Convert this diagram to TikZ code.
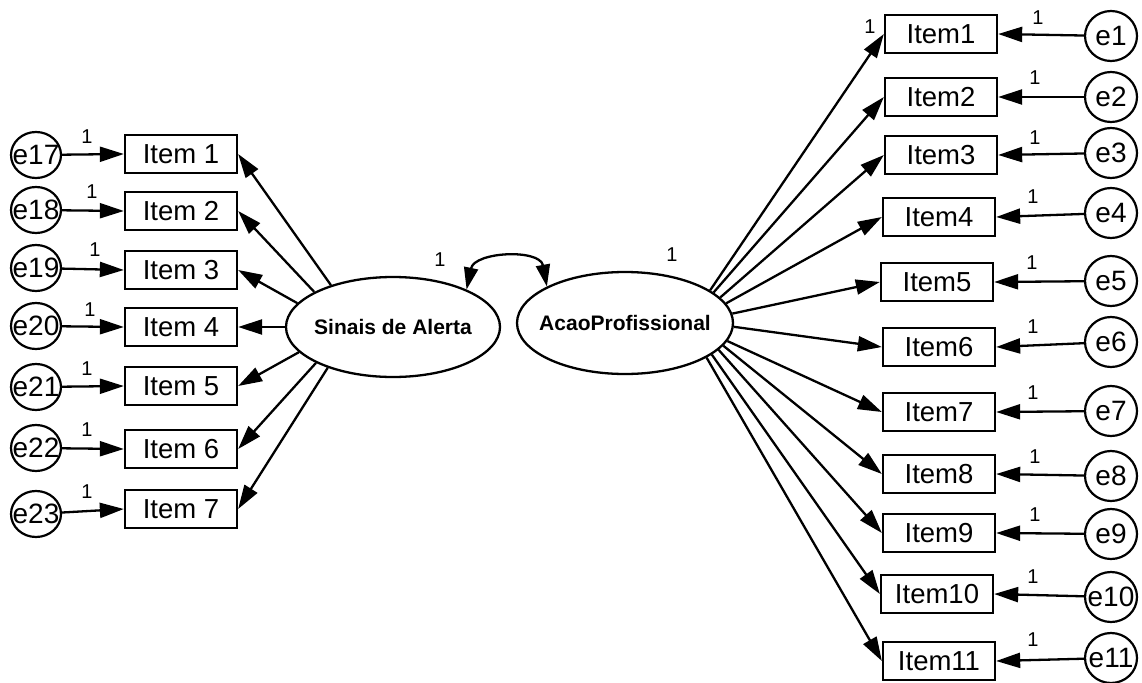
\documentclass[tikz,border=0pt]{standalone}
\usepackage{fontspec}
\setmainfont{Liberation Sans}
\usetikzlibrary{arrows.meta,shapes.geometric}
\newcommand{\zc}[1]{\makebox[0pt]{#1}}
\begin{document}
\begin{tikzpicture}[x=1pt,y=-1pt,
  obs/.style={draw, line width=2.3pt, rectangle, minimum width=112pt, minimum height=38pt, inner sep=0pt, font=\fontsize{27.5}{30}\selectfont},
  errl/.style={draw, line width=2.2pt, ellipse, minimum width=50pt, minimum height=46pt, inner sep=0pt, font=\fontsize{28}{30}\selectfont},
  errr/.style={draw, line width=2.2pt, ellipse, minimum width=52pt, minimum height=50pt, inner sep=0pt, font=\fontsize{28}{30}\selectfont},
  lat/.style={draw, line width=2.3pt, ellipse, inner sep=0pt, font=\fontsize{21}{24}\selectfont\bfseries},
  pth/.style={line width=2.3pt, -{Triangle[length=24pt,width=15pt]}},
  one/.style={font=\fontsize{20}{22}\selectfont, inner sep=0pt}]
\fill[white] (0,0) rectangle (1142,682);
\useasboundingbox (0,0) rectangle (1142,682);

% latent variables
\node[lat, minimum width=214pt, minimum height=100pt] (sin) at (393,327) {\zc{Sinais de Alerta}};
\node[lat, minimum width=216pt, minimum height=102pt] (aca) at (625,323) {\zc{AcaoProfissional}};

% left items
\node[obs] (i1) at (181,154) {Item 1};
\node[obs] (i2) at (181,211) {Item 2};
\node[obs] (i3) at (181,270) {Item 3};
\node[obs] (i4) at (181,327) {Item 4};
\node[obs] (i5) at (181,386) {Item 5};
\node[obs] (i6) at (181,449) {Item 6};
\node[obs] (i7) at (181,509) {Item 7};

% left errors
\node[errl] (e17) at (36,155) {\zc{e17}};
\node[errl] (e18) at (36,210) {\zc{e18}};
\node[errl] (e19) at (36,268) {\zc{e19}};
\node[errl] (e20) at (36,326) {\zc{e20}};
\node[errl] (e21) at (36,387) {\zc{e21}};
\node[errl] (e22) at (36,448) {\zc{e22}};
\node[errl] (e23) at (36,514) {\zc{e23}};

% right items
\node[obs] (r1) at (941,34) {Item1};
\node[obs] (r2) at (941,97) {Item2};
\node[obs] (r3) at (941,155) {Item3};
\node[obs] (r4) at (939,217) {Item4};
\node[obs] (r5) at (937,282) {Item5};
\node[obs] (r6) at (939,347) {Item6};
\node[obs] (r7) at (939,412) {Item7};
\node[obs] (r8) at (939,474) {Item8};
\node[obs] (r9) at (939,533) {Item9};
\node[obs] (r10) at (937,594) {Item10};
\node[obs] (r11) at (939,661) {Item11};

% right errors
\node[errr] (e1) at (1111,36) {\zc{e1}};
\node[errr] (e2) at (1111,97) {\zc{e2}};
\node[errr] (e3) at (1111,153) {\zc{e3}};
\node[errr] (e4) at (1111,213) {\zc{e4}};
\node[errr] (e5) at (1111,281) {\zc{e5}};
\node[errr] (e6) at (1111,342) {\zc{e6}};
\node[errr] (e7) at (1111,411) {\zc{e7}};
\node[errr] (e8) at (1111,476) {\zc{e8}};
\node[errr] (e9) at (1111,534) {\zc{e9}};
\node[errr] (e10) at (1111,597) {\zc{e10}};
\node[errr] (e11) at (1111,658) {\zc{e11}};

% error paths left
\foreach \e/\i in {e17/i1,e18/i2,e19/i3,e20/i4,e21/i5,e22/i6,e23/i7}
  \draw[pth] (\e) -- (\i.west);
% error paths right
\foreach \e/\i in {e1/r1,e2/r2,e3/r3,e4/r4,e5/r5,e6/r6,e7/r7,e8/r8,e9/r9,e10/r10,e11/r11}
  \draw[pth] (\e) -- (\i.east);

% loadings left
\foreach \a/\i in {146/i1,156/i2,166/i3,180/i4,195/i5,205/i6,212/i7}
  \draw[pth] (sin.\a) -- (\i.east);
% loadings right
\foreach \a/\i in {21/r1,19/r2,15.6/r3,11.9/r4,5.4/r5,-2.7/r6,-10.8/r7,-13.8/r8,-16.6/r9,-20.7/r10,-23/r11}
  \draw[pth] (aca.\a) -- (\i.west);

% covariance
\draw[line width=2.3pt, {Triangle[length=22pt,width=14pt]}-{Triangle[length=22pt,width=14pt]}]
  (sin.27) .. controls +(8,-38) and +(-7,-38) .. (aca.155);

% labels "1"
\node[one] (l17) at (87,137) {1};
\node[one] (l18) at (92,192) {1};
\node[one] (l19) at (95,250) {1};
\node[one] (l20) at (90,310) {1};
\node[one] (l21) at (87,369) {1};
\node[one] (l22) at (87,430) {1};
\node[one] (l23) at (87,492) {1};
\node[one] (l1) at (1038,18) {1};
\node[one] (l2) at (1035,78) {1};
\node[one] (l3) at (1035,138) {1};
\node[one] (l4) at (1033,197) {1};
\node[one] (l5) at (1032,263) {1};
\node[one] (l6) at (1033,327) {1};
\node[one] (l7) at (1033,393) {1};
\node[one] (l8) at (1035,457) {1};
\node[one] (l9) at (1035,515) {1};
\node[one] (l10) at (1033,577) {1};
\node[one] (l11) at (1033,640) {1};
\node[one] (lr1) at (870,27) {1};
\node[one] (lsin) at (440,260) {1};
\node[one] (laca) at (672,255) {1};
\end{tikzpicture}
\end{document}
